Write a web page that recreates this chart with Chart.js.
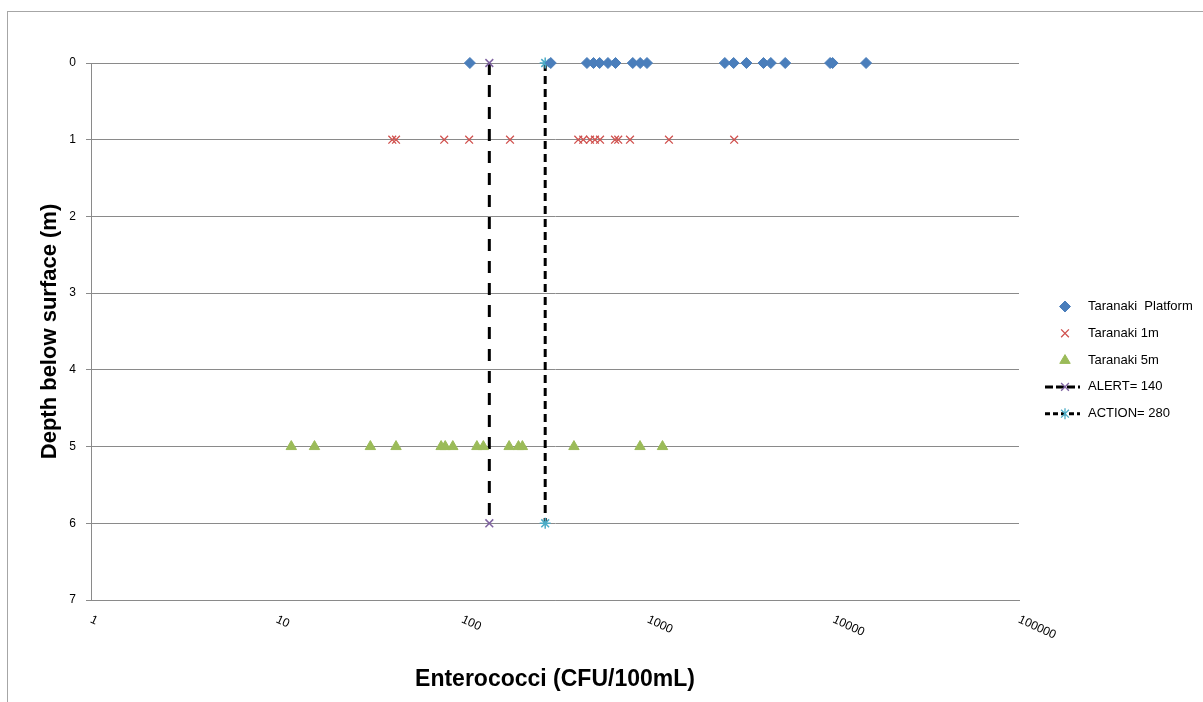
<!DOCTYPE html>
<html>
<head>
<meta charset="utf-8">
<script src="https://cdn.jsdelivr.net/npm/chart.js@4"></script>
<style>
  html, body { margin: 0; padding: 0; background: #fff; }
  #wrap { width: 1203px; height: 702px; position: relative; }
</style>
</head>
<body>
<div id="wrap"><canvas id="c" width="1203" height="702"></canvas></div>
<script>
// ---- data ----
const xTickValues = [1, 10, 100, 1000, 10000, 100000];
const yTickValues = [0, 1, 2, 3, 4, 5, 6, 7];

const seriesNames = ['Taranaki  Platform', 'Taranaki 1m', 'Taranaki 5m', 'ALERT= 140', 'ACTION= 280'];

const platformValues = [110, 300, 470, 510, 550, 610, 670, 830, 910, 990, 2600, 2900, 3400, 4200, 4600, 5500, 9600, 9900, 15000];
const platformDepth = 0;

const oneMValues = [42, 44, 80, 109, 181, 422, 449, 488, 519, 553, 666, 693, 802, 1300, 2920];
const oneMDepth = 1;

const fiveMValues = [12, 16, 32, 44, 77, 81, 89, 120, 130, 179, 201, 211, 400, 908, 1200];
const fiveMDepth = 5;

const alertX = [140, 140];
const alertY = [0, 6];
const actionX = [280, 280];
const actionY = [0, 6];

const xTitle = 'Enterococci (CFU/100mL)';
const yTitle = 'Depth below surface (m)';

// ---- helpers ----
const toPoints = (xs, depth) => xs.map(v => ({ x: v, y: depth }));
const zipPoints = (xs, ys) => xs.map((v, i) => ({ x: v, y: ys[i] }));

const colors = {
  platform: '#4a7ebb',
  oneM: '#d0504d',
  fiveM: '#9bbb59',
  alertMarker: '#8064a2',
  actionMarker: '#4bacc6',
  grid: '#8a8a8a'
};

const FONT = '"Liberation Sans", Arial, sans-serif';

// frame + white background
const framePlugin = {
  id: 'frame',
  beforeDraw(chart) {
    const ctx = chart.ctx;
    ctx.save();
    ctx.fillStyle = '#fff';
    ctx.fillRect(0, 0, chart.width, chart.height);
    ctx.strokeStyle = '#a6a6a6';
    ctx.lineWidth = 1;
    ctx.strokeRect(7.5, 11.5, chart.width + 50, chart.height + 50);
    ctx.restore();
  }
};

// rotated x tick labels (clockwise)
const xLabelPlugin = {
  id: 'xLabels',
  afterDraw(chart) {
    const ctx = chart.ctx;
    const xs = chart.scales.x;
    const bottom = chart.chartArea.bottom;
    ctx.save();
    ctx.fillStyle = '#000';
    ctx.font = '12px ' + FONT;
    ctx.textAlign = 'left';
    ctx.textBaseline = 'middle';
    xTickValues.forEach(v => {
      const px = xs.getPixelForValue(v);
      ctx.save();
      ctx.translate(px, bottom + 19);
      ctx.rotate(25 * Math.PI / 180);
      ctx.fillText(String(v), 0, 0);
      ctx.restore();
    });
    ctx.restore();
  }
};

function drawMarker(ctx, style, x, y, r, fill, stroke, lw) {
  ctx.save();
  ctx.fillStyle = fill;
  ctx.strokeStyle = stroke;
  ctx.lineWidth = lw;
  ctx.beginPath();
  if (style === 'diamond') {
    ctx.moveTo(x - r, y); ctx.lineTo(x, y - r); ctx.lineTo(x + r, y); ctx.lineTo(x, y + r); ctx.closePath();
    ctx.fill(); ctx.stroke();
  } else if (style === 'x') {
    const d = r * Math.SQRT1_2;
    ctx.moveTo(x - d, y - d); ctx.lineTo(x + d, y + d);
    ctx.moveTo(x - d, y + d); ctx.lineTo(x + d, y - d);
    ctx.stroke();
  } else if (style === 'triangle') {
    ctx.moveTo(x, y - r); ctx.lineTo(x + r * 0.95, y + r * 0.6); ctx.lineTo(x - r * 0.95, y + r * 0.6); ctx.closePath();
    ctx.fill(); ctx.stroke();
  } else if (style === 'star') {
    const d = r * Math.SQRT1_2;
    ctx.moveTo(x - d, y - d); ctx.lineTo(x + d, y + d);
    ctx.moveTo(x - d, y + d); ctx.lineTo(x + d, y - d);
    ctx.moveTo(x, y - r); ctx.lineTo(x, y + r);
    ctx.stroke();
  }
  ctx.restore();
}

// custom legend at right
const legendPlugin = {
  id: 'customLegend',
  afterDraw(chart) {
    const ctx = chart.ctx;
    const area = chart.chartArea;
    const mx = area.right + 46;
    const tx = area.right + 69;
    const y0 = 306.5;
    const gap = 26.8;
    const items = [
      { style: 'diamond', fill: colors.platform, stroke: colors.platform, line: null },
      { style: 'x', fill: colors.oneM, stroke: colors.oneM, line: null },
      { style: 'triangle', fill: colors.fiveM, stroke: colors.fiveM, line: null },
      { style: 'x', fill: colors.alertMarker, stroke: colors.alertMarker, line: [8, 3] },
      { style: 'star', fill: colors.actionMarker, stroke: colors.actionMarker, line: [5, 3] }
    ];
    ctx.save();
    items.forEach((it, i) => {
      const y = y0 + i * gap;
      if (it.line) {
        ctx.save();
        ctx.strokeStyle = '#000';
        ctx.lineWidth = 3;
        ctx.setLineDash(it.line);
        ctx.beginPath();
        ctx.moveTo(mx - 20, y);
        ctx.lineTo(mx + 15, y);
        ctx.stroke();
        ctx.restore();
      }
      drawMarker(ctx, it.style, mx, y, 5.5, it.fill, it.stroke, it.style === 'diamond' || it.style === 'triangle' ? 1 : 1.3);
      ctx.fillStyle = '#000';
      ctx.font = '13px ' + FONT;
      ctx.textAlign = 'left';
      ctx.textBaseline = 'middle';
      ctx.fillText(seriesNames[i], tx, y);
    });
    ctx.restore();
  }
};

const chart = new Chart(document.getElementById('c'), {
  type: 'scatter',
  data: {
    datasets: [
      {
        label: seriesNames[0],
        data: toPoints(platformValues, platformDepth),
        clip: false,
        pointStyle: 'rectRot',
        pointRadius: 5.5,
        pointBackgroundColor: colors.platform,
        pointBorderColor: colors.platform,
        pointBorderWidth: 1
      },
      {
        label: seriesNames[1],
        data: toPoints(oneMValues, oneMDepth),
        clip: false,
        pointStyle: 'crossRot',
        pointRadius: 5.5,
        pointBackgroundColor: colors.oneM,
        pointBorderColor: colors.oneM,
        pointBorderWidth: 1.3
      },
      {
        label: seriesNames[2],
        data: toPoints(fiveMValues, fiveMDepth),
        clip: false,
        pointStyle: 'triangle',
        pointRadius: 6,
        pointBackgroundColor: colors.fiveM,
        pointBorderColor: colors.fiveM,
        pointBorderWidth: 1
      },
      {
        label: seriesNames[3],
        data: zipPoints(alertX, alertY),
        clip: false,
        showLine: true,
        borderColor: '#000',
        borderWidth: 3,
        borderDash: [12, 10],
        pointStyle: 'crossRot',
        pointRadius: 5.5,
        pointBackgroundColor: colors.alertMarker,
        pointBorderColor: colors.alertMarker,
        pointBorderWidth: 1.5
      },
      {
        label: seriesNames[4],
        data: zipPoints(actionX, actionY),
        clip: false,
        showLine: true,
        borderColor: '#000',
        borderWidth: 3,
        borderDash: [8, 5],
        pointStyle: 'star',
        pointRadius: 5.5,
        pointBackgroundColor: colors.actionMarker,
        pointBorderColor: colors.actionMarker,
        pointBorderWidth: 1.5
      }
    ]
  },
  options: {
    responsive: false,
    animation: false,
    devicePixelRatio: 1,
    layout: { padding: { left: 0, top: 63, right: 184, bottom: 0 } },
    plugins: {
      legend: { display: false },
      tooltip: { enabled: false }
    },
    scales: {
      x: {
        type: 'logarithmic',
        min: xTickValues[0],
        max: xTickValues[xTickValues.length - 1],
        ticks: { display: false },
        grid: { display: false },
        border: { display: true, color: colors.grid, width: 1 },
        title: {
          display: true,
          text: xTitle,
          color: '#000',
          font: { family: FONT, size: 23, weight: 'bold' },
          padding: { top: 60, bottom: 9 }
        },
        afterFit(scale) { scale.height = 102; }
      },
      y: {
        type: 'linear',
        reverse: true,
        min: yTickValues[0],
        max: yTickValues[yTickValues.length - 1],
        afterBuildTicks(scale) { scale.ticks = yTickValues.map(v => ({ value: v })); },
        ticks: {
          stepSize: 1,
          color: '#000',
          font: { family: FONT, size: 12 },
          padding: 10
        },
        grid: { color: colors.grid, lineWidth: 1, tickLength: 5, drawTicks: true },
        border: { display: true, color: colors.grid, width: 1 },
        title: {
          display: true,
          text: yTitle,
          color: '#000',
          font: { family: FONT, size: 22, weight: 'bold' },
          padding: { top: 37, bottom: 0 }
        },
        afterFit(scale) { scale.width = 91; }
      }
    }
  },
  plugins: [framePlugin, xLabelPlugin, legendPlugin]
});
</script>
</body>
</html>
